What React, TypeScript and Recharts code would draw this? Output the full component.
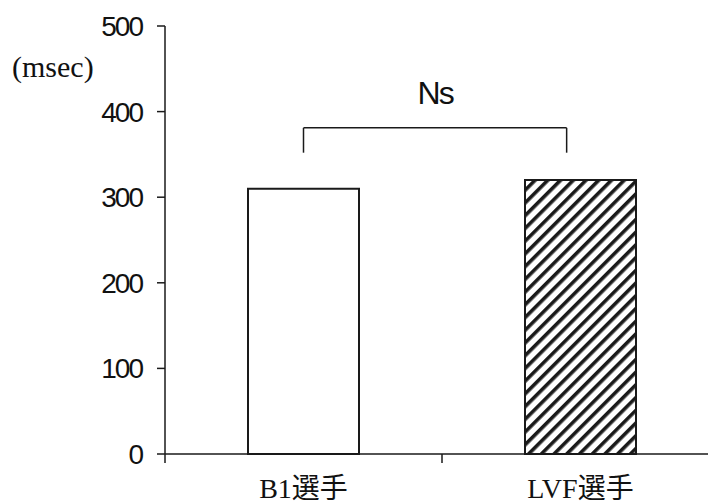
import { ComposedChart, Bar, Cell, XAxis, YAxis, ReferenceLine, Label } from 'recharts'

// values
const categories = ['B1選手', 'LVF選手']
const categoryPos = [0.5, 1.5]
const values = [310, 320]
const yTicks = [0, 100, 200, 300, 400, 500]
const bracketX = [0.5, 1.45]
const bracketY = [352, 381]
const bracketText = 'Ns'
const unitText = '(msec)'

const data = categories.map((name, i) => ({ name, pos: categoryPos[i], value: values[i] }))

const INK = '#1a1a1a'
const GOTHIC = "'Liberation Sans', sans-serif"
const MINCHO = "'Liberation Serif', 'Noto Sans CJK JP', serif"

const CategoryTick = ({ x, y, payload }: any) => {
  const edge = x - (payload.offset ?? 0)
  return (
    <g>
      <line x1={edge} y1={y} x2={edge} y2={y + 9} stroke={INK} strokeWidth={1.5} />
      <text x={x} y={y + 44} textAnchor="middle" fontFamily={MINCHO} fontSize={28} fill="#111">
        {payload.value}
      </text>
    </g>
  )
}

export default function App() {
  return (
    <div style={{ position: 'absolute', left: 0, top: 0, width: 708, height: 504, overflow: 'hidden', background: '#fff' }}>
      <div style={{ position: 'absolute', left: 12, top: 52, fontFamily: MINCHO, fontSize: 30, lineHeight: 1, color: '#111' }}>
        {unitText}
      </div>
      <ComposedChart width={724} height={504} data={data} margin={{ top: 26, right: 5, left: 0, bottom: 0 }}>
        <defs>
          <pattern id="hatch" patternUnits="userSpaceOnUse" width={9} height={9} patternTransform="rotate(45)">
            <rect x={0} y={0} width={3.6} height={9} fill={INK} />
          </pattern>
        </defs>
        <XAxis
          dataKey="name"
          height={50}
          tickSize={0}
          tickMargin={0}
          tickLine={false}
          axisLine={{ stroke: INK, strokeWidth: 1.5 }}
          tick={<CategoryTick />}
        />
        <XAxis xAxisId="num" dataKey="pos" type="number" domain={[0, 2]} allowDataOverflow hide />
        <YAxis
          width={165}
          domain={[0, 500]}
          ticks={yTicks}
          tickSize={8}
          tickMargin={15}
          axisLine={{ stroke: INK, strokeWidth: 1.5 }}
          tickLine={{ stroke: INK, strokeWidth: 1.5 }}
          tick={{ fill: '#111', fontSize: 28, fontFamily: GOTHIC, letterSpacing: -2 }}
        />
        <Bar dataKey="value" barSize={111} stroke={INK} strokeWidth={2} isAnimationActive={false}>
          {data.map((d, i) => (
            <Cell key={d.name} fill={i === 0 ? '#fff' : 'url(#hatch)'} />
          ))}
        </Bar>
        {/* significance bracket */}
        <ReferenceLine
          xAxisId="num"
          segment={[{ x: bracketX[0], y: bracketY[1] }, { x: bracketX[1], y: bracketY[1] }]}
          stroke={INK}
          strokeWidth={1.5}
          ifOverflow="visible"
        >
          <Label value={bracketText} position="top" offset={24} fontSize={32} fontFamily={GOTHIC} fill="#111" letterSpacing={-2} />
        </ReferenceLine>
        <ReferenceLine
          xAxisId="num"
          segment={[{ x: bracketX[0], y: bracketY[0] }, { x: bracketX[0], y: bracketY[1] }]}
          stroke={INK}
          strokeWidth={1.5}
          ifOverflow="visible"
        />
        <ReferenceLine
          xAxisId="num"
          segment={[{ x: bracketX[1], y: bracketY[0] }, { x: bracketX[1], y: bracketY[1] }]}
          stroke={INK}
          strokeWidth={1.5}
          ifOverflow="visible"
        />
      </ComposedChart>
    </div>
  )
}
